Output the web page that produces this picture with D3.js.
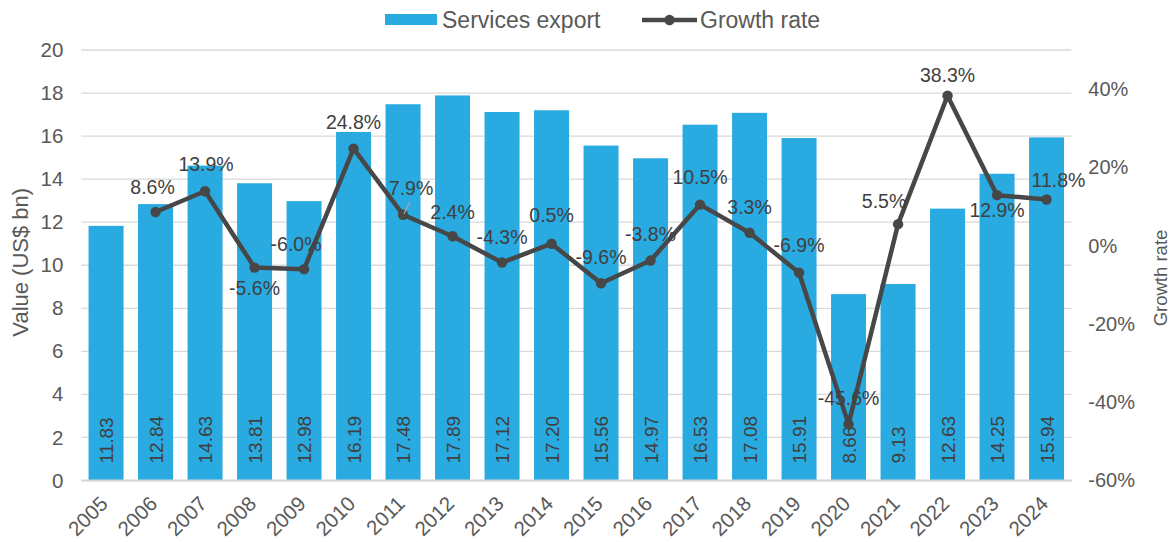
<!DOCTYPE html>
<html>
<head>
<meta charset="utf-8">
<script src="https://cdn.jsdelivr.net/npm/d3@7"></script>
<style>
  html, body { margin: 0; padding: 0; background: #fff; }
  svg { display: block; font-family: "Liberation Sans", Arial, Helvetica, sans-serif; }
</style>
</head>
<body>
<svg id="chart" width="1175" height="542"></svg>
<script>
// Annual services exports and year-on-year growth
const years = ["2005","2006","2007","2008","2009","2010","2011","2012","2013","2014",
               "2015","2016","2017","2018","2019","2020","2021","2022","2023","2024"];
const exportValues = [11.83,12.84,14.63,13.81,12.98,16.19,17.48,17.89,17.12,17.20,
                      15.56,14.97,16.53,17.08,15.91,8.66,9.13,12.63,14.25,15.94];
const growthRates = [null,8.6,13.9,-5.6,-6.0,24.8,7.9,2.4,-4.3,0.5,
                     -9.6,-3.8,10.5,3.3,-6.9,-45.6,5.5,38.3,12.9,11.8];
const leftTicks = [0,2,4,6,8,10,12,14,16,18,20];
const rightTicks = [-60,-40,-20,0,20,40];

// Label placement nudges (centre of label relative to its marker), default sits above
const labelNudge = {
  "2006": [-3, -25], "2007": [1, -27], "2008": [0, 20], "2009": [-8, -25],
  "2010": [0, -27], "2011": [8, -27], "2012": [0, -24], "2013": [0, -26],
  "2014": [0, -29], "2015": [0, -26], "2016": [0, -27], "2017": [0, -28],
  "2018": [0, -26], "2019": [0, -28], "2020": [0, -26], "2021": [-14, -23],
  "2022": [0, -21], "2023": [0, 15], "2024": [12, -20]
};

const svg = d3.select("#chart");
const plotLeft = 81.3, plotRight = 1071.3, plotTop = 50, plotBottom = 480.5;

const x = d3.scaleBand().domain(years).range([plotLeft, plotRight]).paddingInner(0.293).paddingOuter(0.1465);
const yL = d3.scaleLinear().domain([0, 20]).range([plotBottom, plotTop]);
const yR = d3.scaleLinear().domain([-60, 50]).range([plotBottom, plotTop]);

const textColor = "#595959";
const labelColor = "#404040";
const barColor = "#29aae1";
const lineColor = "#474747";

// gridlines
svg.append("g").selectAll("line").data(leftTicks.filter(d => d > 0)).join("line")
  .attr("x1", plotLeft).attr("x2", plotRight)
  .attr("y1", d => yL(d)).attr("y2", d => yL(d))
  .attr("stroke", "#d9d9d9").attr("stroke-width", 1.3);

// left axis
const axL = svg.append("g").attr("transform", `translate(${plotLeft},0)`)
  .call(d3.axisLeft(yL).tickValues(leftTicks).tickSize(0).tickPadding(18));
axL.select(".domain").remove();
axL.selectAll("text").attr("font-size", 20.5).attr("fill", textColor).attr("font-family", null);

// right axis
const axR = svg.append("g").attr("transform", `translate(${plotRight},0)`)
  .call(d3.axisRight(yR).tickValues(rightTicks).tickSize(0).tickPadding(17).tickFormat(d => d + "%"));
axR.select(".domain").remove();
axR.selectAll("text").attr("font-size", 20).attr("fill", textColor).attr("font-family", null);

// bars
svg.append("g").selectAll("rect").data(exportValues).join("rect")
  .attr("x", (d, i) => x(years[i]))
  .attr("width", x.bandwidth())
  .attr("y", d => yL(d))
  .attr("height", d => yL(0) - yL(d))
  .attr("fill", barColor);

// bar value labels, rotated inside the base
svg.append("g").selectAll("text").data(exportValues).join("text")
  .attr("transform", (d, i) => `translate(${x(years[i]) + x.bandwidth() / 2 + 7},${yL(0) - 17}) rotate(-90)`)
  .attr("text-anchor", "start")
  .attr("font-size", 19)
  .attr("fill", labelColor)
  .text(d => d.toFixed(2));

// x axis baseline
svg.append("line").attr("x1", plotLeft).attr("x2", plotRight + 1)
  .attr("y1", plotBottom).attr("y2", plotBottom)
  .attr("stroke", "#d4d4d4").attr("stroke-width", 2);

// x axis labels
const axX = svg.append("g").attr("transform", `translate(0,${plotBottom})`)
  .call(d3.axisBottom(x).tickSize(0).tickPadding(0));
axX.select(".domain").remove();
axX.selectAll("text")
  .attr("font-size", 20.5).attr("fill", textColor).attr("font-family", null)
  .attr("text-anchor", "end")
  .attr("dy", 0)
  .attr("transform", "translate(3,24.5) rotate(-45)");

// growth line
const pts = growthRates.map((v, i) => ({ year: years[i], v })).filter(p => p.v !== null);
const cx = p => x(p.year) + x.bandwidth() / 2;
svg.append("path").datum(pts)
  .attr("d", d3.line().x(cx).y(p => yR(p.v)))
  .attr("fill", "none").attr("stroke", lineColor).attr("stroke-width", 4.5)
  .attr("stroke-linejoin", "round");
svg.append("g").selectAll("circle").data(pts).join("circle")
  .attr("cx", cx).attr("cy", p => yR(p.v)).attr("r", 5.2)
  .attr("fill", lineColor);

// leader line for the 2011 label
const p2011 = pts.find(p => p.year === "2011");
svg.append("line")
  .attr("x1", cx(p2011) + 1).attr("y1", yR(p2011.v) - 1)
  .attr("x2", cx(p2011) + 7).attr("y2", yR(p2011.v) - 13)
  .attr("stroke", "#a6a6a6").attr("stroke-width", 1.3);

// growth labels
const gFont = 19.5;
svg.append("g").selectAll("text").data(pts).join("text")
  .attr("x", p => cx(p) + (labelNudge[p.year] || [0, -26])[0])
  .attr("y", p => yR(p.v) + (labelNudge[p.year] || [0, -26])[1] + gFont * 0.36)
  .attr("text-anchor", "middle")
  .attr("font-size", gFont).attr("fill", labelColor)
  .text(p => p.v.toFixed(1) + "%");

// axis titles
svg.append("text")
  .attr("transform", `translate(28,${(plotTop + plotBottom) / 2 - 3}) rotate(-90)`)
  .attr("text-anchor", "middle").attr("font-size", 22).attr("fill", textColor)
  .text("Value (US$ bn)");
svg.append("text")
  .attr("transform", `translate(1167,278) rotate(-90)`)
  .attr("text-anchor", "middle").attr("font-size", 18.5).attr("fill", textColor)
  .text("Growth rate");

// legend
const lg = svg.append("g");
lg.append("rect").attr("x", 385).attr("y", 14).attr("width", 52).attr("height", 11).attr("fill", barColor);
lg.append("text").attr("x", 442).attr("y", 19.5).attr("dominant-baseline", "central")
  .attr("font-size", 23).attr("fill", textColor).text("Services export");
lg.append("line").attr("x1", 642).attr("x2", 697).attr("y1", 20).attr("y2", 20)
  .attr("stroke", lineColor).attr("stroke-width", 4.5);
lg.append("circle").attr("cx", 669.5).attr("cy", 20).attr("r", 5.2).attr("fill", lineColor);
lg.append("text").attr("x", 700).attr("y", 19.5).attr("dominant-baseline", "central")
  .attr("font-size", 23).attr("fill", textColor).text("Growth rate");
</script>
</body>
</html>
